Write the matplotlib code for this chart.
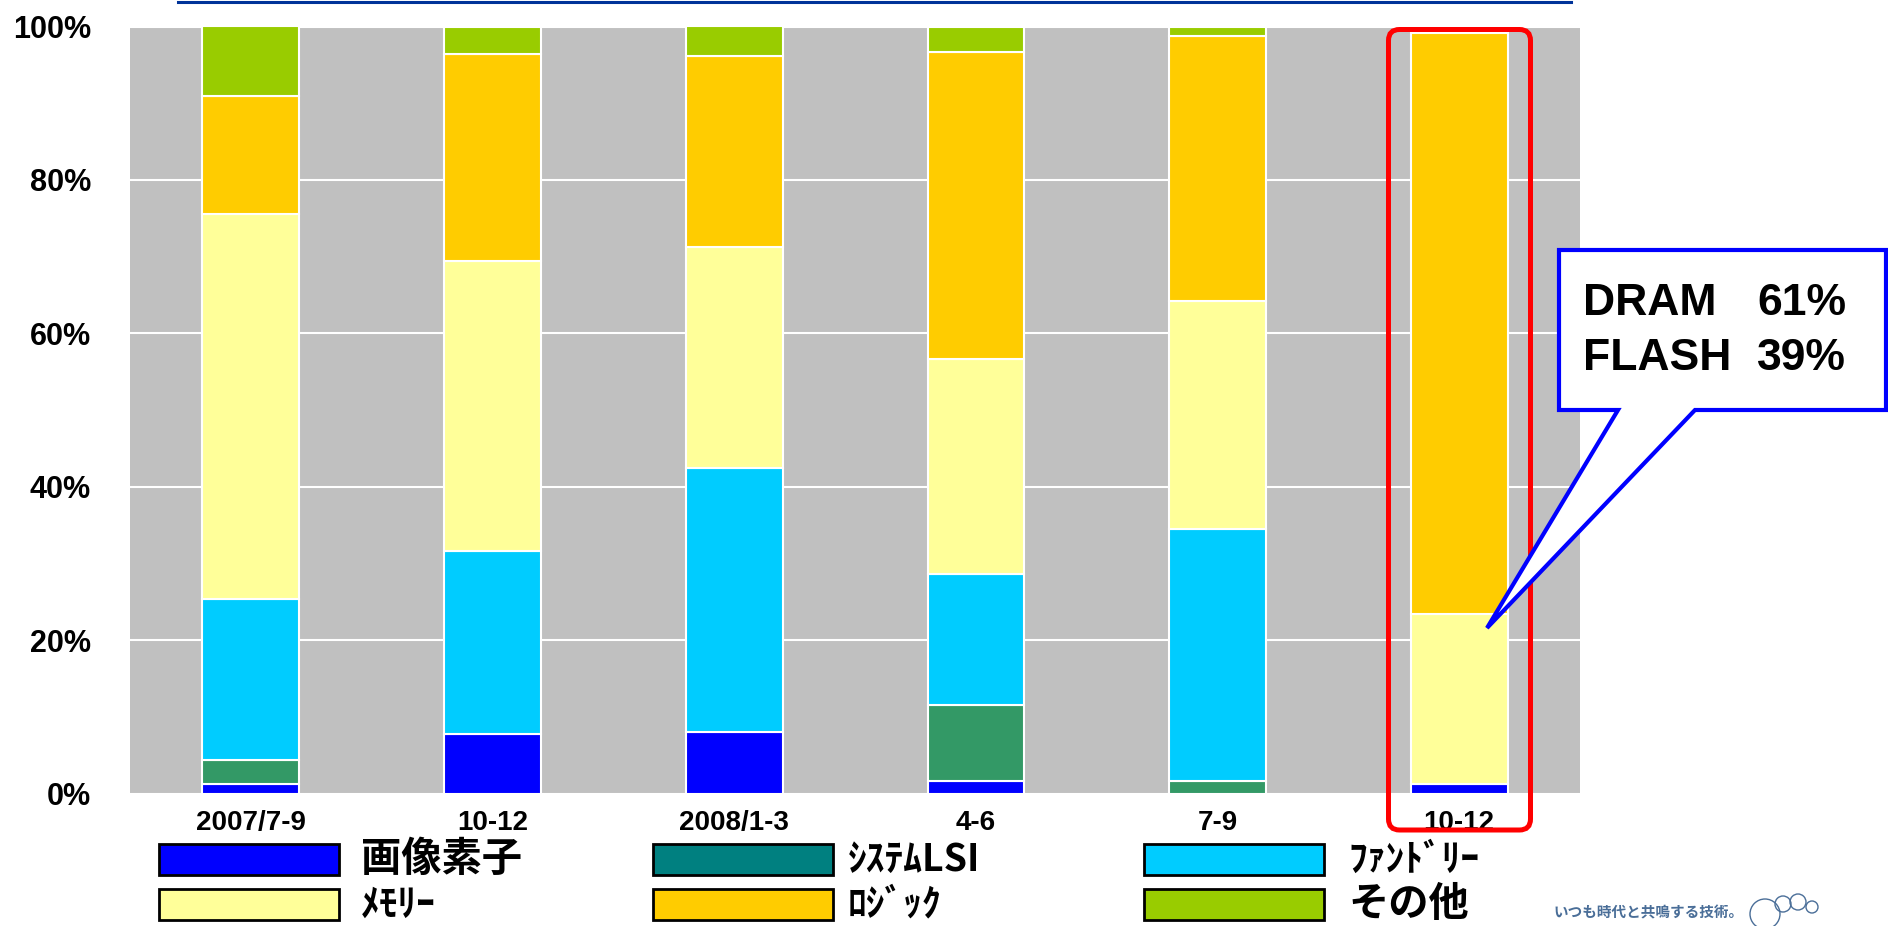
import numpy as np
import matplotlib
matplotlib.use("Agg")
import matplotlib.pyplot as plt
from matplotlib import font_manager
from matplotlib.patches import Polygon, FancyBboxPatch, Rectangle, Ellipse
from matplotlib.lines import Line2D

# share of each product group per quarter (%)
categories = ["2007/7-9", "10-12", "2008/1-3", "4-6", "7-9", "10-12"]
image_sensor = [1.2, 7.7, 8.0, 1.6, 0.0, 1.3]
system_lsi = [3.2, 0.0, 0.0, 10.0, 1.6, 0.0]
foundry = [21.0, 23.9, 34.5, 17.0, 32.9, 0.0]
memory = [50.1, 37.8, 28.8, 28.1, 29.7, 22.1]
logic = [15.4, 27.0, 24.8, 40.0, 34.5, 75.8]
other = [9.1, 3.6, 3.9, 3.3, 1.3, 0.0]

series_names = ["画像素子", "ｼｽﾃﾑLSI", "ﾌｧﾝﾄﾞﾘｰ", "ﾒﾓﾘｰ", "ﾛｼﾞｯｸ", "その他"]
bar_colors = ["#0000FF", "#339966", "#00CCFF", "#FFFF99", "#FFCC00", "#99CC00"]
legend_colors = ["#0000FF", "#008080", "#00CCFF", "#FFFF99", "#FFCC00", "#99CC00"]
yticks = [0, 20, 40, 60, 80, 100]
callout_lines = [("DRAM", "61%"), ("FLASH", "39%")]

W, H = 1888, 926
installed = {f.name for f in font_manager.fontManager.ttflist}
narrow = "Liberation Sans Narrow" if "Liberation Sans Narrow" in installed else "Liberation Sans"
jp = ["Noto Sans CJK JP", "DejaVu Sans"]

fig = plt.figure(figsize=(W / 100, H / 100), dpi=100)
fig.patch.set_facecolor("white")


def fx(px):
    return px / W


def fy(py):
    return 1 - py / H


ax = fig.add_axes([fx(130), fy(793.5), fx(1450), (793.5 - 26.5) / H])
ax.set_facecolor("#C0C0C0")
for s in ax.spines.values():
    s.set_visible(False)

x = np.arange(len(categories))
bottom = np.zeros(len(categories))
for vals, col in zip([image_sensor, system_lsi, foundry, memory, logic, other], bar_colors):
    vals = np.array(vals, dtype=float)
    for i in range(len(x)):
        if vals[i] > 0:
            ax.bar(x[i], vals[i], bottom=bottom[i], width=0.4, color=col,
                   edgecolor="white", linewidth=1.5, zorder=3)
    bottom += vals

ax.set_xlim(-0.5, len(categories) - 0.5)
ax.set_ylim(0, 100)
ax.set_yticks(yticks)
ax.set_yticklabels([f"{v}%" for v in yticks], fontfamily="Liberation Sans",
                   fontweight="bold", fontsize=22)
ax.set_xticks(x)
ax.set_xticklabels(categories, fontfamily=narrow, fontweight="bold", fontsize=20)
ax.tick_params(axis="y", length=0, pad=28)
ax.tick_params(axis="x", length=0, pad=12)
ax.yaxis.grid(True, color="white", linewidth=1.5, zorder=1)
ax.set_axisbelow(True)

# header rule across the top
fig.add_artist(Line2D([fx(178), fx(1571)], [fy(1.5), fy(1.5)], color="#003399",
                      linewidth=2.2, transform=fig.transFigure))

# red frame around the last quarter
fig.add_artist(FancyBboxPatch((1388.5 / 100, (H - 830) / 100), 142 / 100, 800.5 / 100,
                              boxstyle="round,pad=0,rounding_size=0.11",
                              transform=fig.dpi_scale_trans, facecolor="none",
                              edgecolor="#FF0000", linewidth=3.6, zorder=10))

# callout for the memory split
pts = [(1559, 250), (1886, 250), (1886, 410), (1695, 410), (1487, 628),
       (1618, 410), (1559, 410)]
fig.add_artist(Polygon([(fx(px), fy(py)) for px, py in pts], closed=True,
                       transform=fig.transFigure, facecolor="white",
                       edgecolor="#0000FF", linewidth=3, zorder=11))
for k, (name, pct) in enumerate(callout_lines):
    yy = fy(304 + 54 * k)
    fig.text(fx(1583), yy, name, fontfamily="Liberation Sans", fontweight="bold",
             fontsize=32, va="center", ha="left", zorder=12)
    fig.text(fx(1757), yy, pct, fontfamily="Liberation Sans", fontweight="bold",
             fontsize=32, va="center", ha="left", zorder=12)

# legend drawn by hand in a 3 x 2 grid
col_x = [159, 653, 1144]
label_x = [361, 848, 1348]
row_y = [844, 889]
for i, (name, col) in enumerate(zip(series_names, legend_colors)):
    r, c = divmod(i, 3)
    fig.add_artist(Rectangle((fx(col_x[c]), fy(row_y[r] + 31)), fx(180), 31 / H,
                             transform=fig.transFigure, facecolor=col,
                             edgecolor="black", linewidth=2))
    big = name in ("画像素子", "その他")
    fig.text(fx(label_x[c]), fy(row_y[r] + 15), name, fontfamily=jp,
             fontweight="bold", fontsize=29 if big else 27, va="center", ha="left")

# company tagline in the corner
fig.text(fx(1553), fy(912), "いつも時代と共鳴する技術。", fontfamily=jp,
         fontsize=10.5, fontweight="bold", color="#4A6E98", va="center", ha="left")
for cx, cy, rw in [(1765, 914, 30), (1783, 904, 16), (1798, 902, 16), (1812, 907, 12)]:
    fig.add_artist(Ellipse((fx(cx), fy(cy)), fx(rw), rw / H, transform=fig.transFigure,
                           facecolor="none", edgecolor="#4A6E98", linewidth=1.0))

fig.savefig("out.png", dpi=100)
